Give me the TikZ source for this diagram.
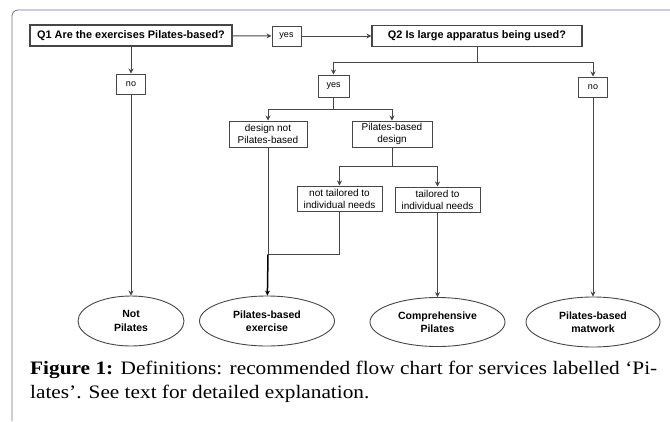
\documentclass[tikz,border=0pt]{standalone}
\usepackage{fontspec}
\setmainfont{Liberation Serif}
\setsansfont{Liberation Sans}
\newfontfamily\capfont[Ligatures=TeX, FakeStretch=1.12]{Liberation Serif}
\usetikzlibrary{positioning,arrows.meta,shapes.geometric}
\definecolor{framecol}{RGB}{110,110,160}
\definecolor{linecol}{RGB}{70,70,70}
\tikzset{
  qbox/.style={draw=linecol, line width=1.2pt, rectangle, inner sep=0pt, minimum height=21pt, font=\sffamily\bfseries\fontsize{10.9}{13}\selectfont},
  ansbox/.style={draw=linecol, line width=1pt, rectangle, inner sep=0pt, minimum width=29pt, minimum height=20pt, font=\sffamily\fontsize{9}{11}\selectfont},
  optbox/.style={draw=linecol, line width=1pt, rectangle, align=center, inner sep=0pt, minimum height=26pt, font=\sffamily\fontsize{10}{12}\selectfont},
  endnode/.style={draw=linecol, line width=0.9pt, ellipse, align=center, inner sep=0pt, minimum height=50pt, font=\sffamily\bfseries\fontsize{10.5}{13.5}\selectfont},
  flow/.style={draw=linecol, line width=0.9pt, -{Stealth[length=5pt,width=5pt]}},
  seg/.style={draw=linecol, line width=0.9pt}
}
\begin{document}
\begin{tikzpicture}[x=1pt, y=-1pt]
    \useasboundingbox (0,0) rectangle (670,421);
    \draw[framecol, line width=0.8pt, rounded corners=6pt] (12,421) -- (12,10) -- (670,10);
    % questions
    \node[qbox, minimum width=202pt] (q1) at (131,35.5) {Q1 Are the exercises Pilates-based?};
    \node[ansbox] (yes1) at (286.5,36) {yes};
    \node[qbox, minimum width=210pt] (q2) at (477,36) {Q2 Is large apparatus being used?};
    \node[ansbox] (no1) at (131,84) {no};
    \node[ansbox, minimum width=31pt, minimum height=22pt] (yes2) at (333.5,86) {yes};
    \node[ansbox] (no2) at (593,87) {no};
    % design
    \node[optbox, minimum width=78pt] (notdesign) at (268,134) {design not\\Pilates-based};
    \node[optbox, minimum width=80pt] (pbdesign) at (392,134) {Pilates-based\\design};
    \node[optbox, minimum width=85pt, minimum height=25pt] (nottailored) at (339.5,198.5) {not tailored to\\individual needs};
    \node[optbox, minimum width=85pt, minimum height=25pt] (tailored) at (437.5,199.5) {tailored to\\individual needs};
    % outcomes
    \node[endnode, minimum width=106pt] (notpil) at (131,321) {Not\\Pilates};
    \node[endnode, minimum width=135pt] (pbex) at (267,321) {Pilates-based\\exercise};
    \node[endnode, minimum width=135pt, minimum height=49pt] (comp) at (437.5,322) {Comprehensive\\Pilates};
    \node[endnode, minimum width=134pt] (mat) at (593,322) {Pilates-based\\matwork};
    % connectors
    \draw[flow] (q1) -- (yes1);
    \draw[flow] (yes1) -- (q2);
    \draw[flow] (q1) -- (no1);
    \draw[flow] (no1) -- (notpil);
    \draw[seg] (q2.south) -- ++(0,15) coordinate (q2split);
    \draw[flow] (q2split) -| (yes2);
    \draw[flow] (q2split) -| (no2);
    \draw[seg] (yes2.south) -- ++(0,12) coordinate (yessplit);
    \draw[flow] (yessplit) -| (notdesign);
    \draw[flow] (yessplit) -| (pbdesign);
    \draw[seg] (pbdesign.south) -- ++(0,19) coordinate (designsplit);
    \draw[flow] (designsplit) -| (nottailored);
    \draw[flow] (designsplit) -| (tailored);
    \path (notdesign.south) ++(0,107) coordinate (merge);
    \draw[seg] (notdesign) -- (merge);
    \draw[seg] (nottailored) |- (merge);
    \draw[flow, draw=black, line width=1.5pt] (merge) -- (pbex);
    \draw[flow] (tailored) -- (comp);
    \draw[flow] (no2) -- (mat);
    % caption
    \node[anchor=north west, text width=627pt, align=justify, inner sep=0pt, font=\capfont\fontsize{19}{24}\selectfont] (caption) at (30,361) {\textbf{Figure 1:} Definitions: recommended flow chart for services labelled ‘Pi-\linebreak lates’. See text for detailed explanation.};
\end{tikzpicture}
\end{document}
